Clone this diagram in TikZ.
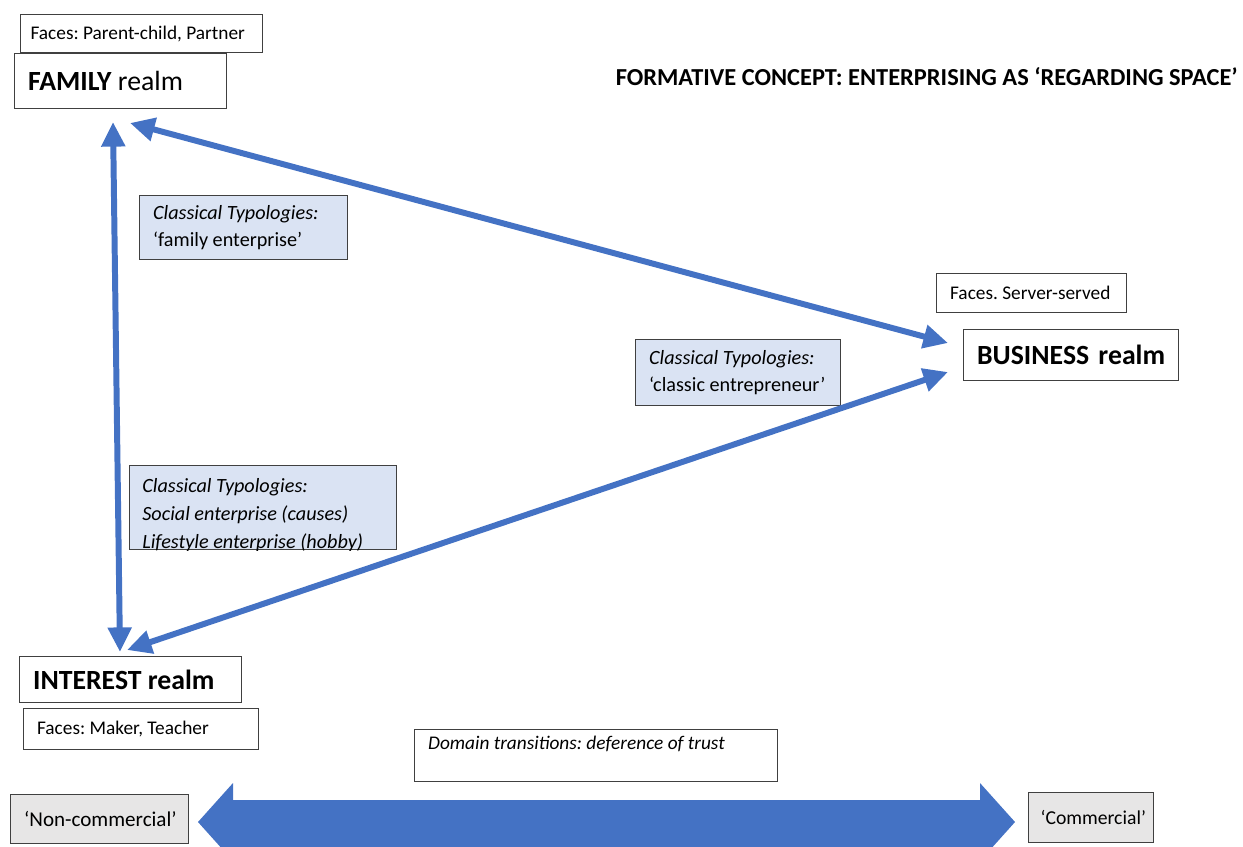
\documentclass[tikz,border=0pt]{standalone}
\usepackage{fontspec}
\setmainfont{Carlito}
\usetikzlibrary{arrows.meta}

\begin{document}
\frenchspacing
\begin{tikzpicture}[x=0.02cm, y=-0.02cm,
		box/.style={draw=boxgray, line width=0.7pt, fill=white, anchor=north west,
			inner xsep=0.27cm, inner ysep=0pt, align=flush left,
			font=\fontsize{11}{15}\selectfont},
		realm/.style={box, font=\fontsize{15.8}{18}\selectfont},
		typbox/.style={box, fill=typblue, font=\fontsize{11.5}{15.4}\selectfont\itshape},
		typtext/.style={inner sep=0pt, align=flush left, font=\fontsize{11.5}{15.9}\selectfont\itshape},
		polebox/.style={box, fill=polegray, font=\fontsize{11.2}{14}\selectfont},
		link/.style={draw=linkblue, line width=3.4pt,
			{Triangle[length=14pt,width=13pt]}-{Triangle[length=14pt,width=13pt]}}]
		\definecolor{linkblue}{HTML}{4472C4}
		\definecolor{typblue}{HTML}{DAE3F3}
		\definecolor{polegray}{HTML}{E7E6E6}
		\definecolor{boxgray}{HTML}{404040}
		\clip (0,0) rectangle (1243,846);
		
		% title
		\node[font=\fontsize{13.9}{16}\selectfont\bfseries, anchor=east, inner sep=0pt] (title) at (1238,77) {FORMATIVE CONCEPT: ENTERPRISING AS ‘REGARDING SPACE’};
		
		% family
		\node[box, inner xsep=0.2cm, minimum width=4.84cm, minimum height=0.76cm, text width=4.44cm] (facesfam) at (20,14) {\mbox{Faces: Parent-child, Partner}};
		\node[realm, minimum width=4.24cm, minimum height=1.10cm, text width=3.70cm] (fam) at (14,53) {\mbox{\textbf{FAMILY} realm}};
		% business
		\node[box, minimum width=3.80cm, minimum height=0.78cm, text width=3.26cm] (facesbus) at (936,273) {\mbox{Faces. Server-served}};
		\node[realm, align=center, minimum width=4.30cm, minimum height=1.02cm, text width=3.76cm] (bus) at (963,329) {\mbox{\textbf{BUSINESS realm}}};
		% interest
		\node[realm, minimum width=4.44cm, minimum height=0.92cm, text width=3.90cm] (int) at (19,656) {\mbox{\textbf{INTEREST realm}}};
		\node[box, minimum width=4.70cm, minimum height=0.82cm, text width=4.16cm] (facesint) at (23,708) {\mbox{Faces: Maker, Teacher}};
		
		% typologies
		\node[typbox, minimum width=4.16cm, minimum height=1.28cm, text width=3.62cm] (typfam) at (139,195) {Classical Typologies:\\\upshape‘family enterprise’};
		\node[typbox, minimum width=4.10cm, minimum height=1.32cm, text width=3.56cm] (typbus) at (635,339) {Classical Typologies:\\\upshape‘classic entrepreneur’};
		\node[typbox, minimum width=5.34cm, minimum height=1.68cm] (typint) at (129,465) {};
		\begin{scope}
			\clip (typint.north west) rectangle (typint.south east);
			\node[typtext, anchor=base west] (typinttext) at (142,548) {Classical Typologies:\\Social enterprise (causes)\\Lifestyle enterprise (hobby)};
		\end{scope}
		
		% realm links
		\coordinate (famA) at (113,122);
		\coordinate (famB) at (130,123);
		\coordinate (intA) at (120,652);
		\coordinate (intB) at (127,650);
		\coordinate (busA) at (948,343);
		\coordinate (busB) at (948,372);
		\draw[link] (famA) -- (intA);
		\draw[link] (famB) -- (busA);
		\draw[link] (intB) -- (busB);
		
		% domain transitions
		\node[box, font=\fontsize{11}{15}\selectfont\itshape, minimum width=7.26cm, minimum height=1.04cm, text width=6.72cm] (domain) at (414,729) {Domain transitions: deference of trust\\\mbox{}};
		\node[polebox, font=\fontsize{12}{14}\selectfont, minimum width=3.56cm, minimum height=0.98cm, text width=3.02cm] (noncom) at (10,794) {\mbox{‘Non-commercial’}};
		\node[polebox, inner xsep=0.24cm, minimum width=2.50cm, minimum height=1.00cm, text width=2.02cm] (com) at (1028,792) {\mbox{‘Commercial’}};
		\fill[linkblue] (198,822) -- (233,783) -- (233,800) -- (980,800) -- (980,783) -- (1015,822)
			-- (980,861) -- (980,847) -- (233,847) -- (233,861) -- cycle;
		
\end{tikzpicture}
\end{document}
